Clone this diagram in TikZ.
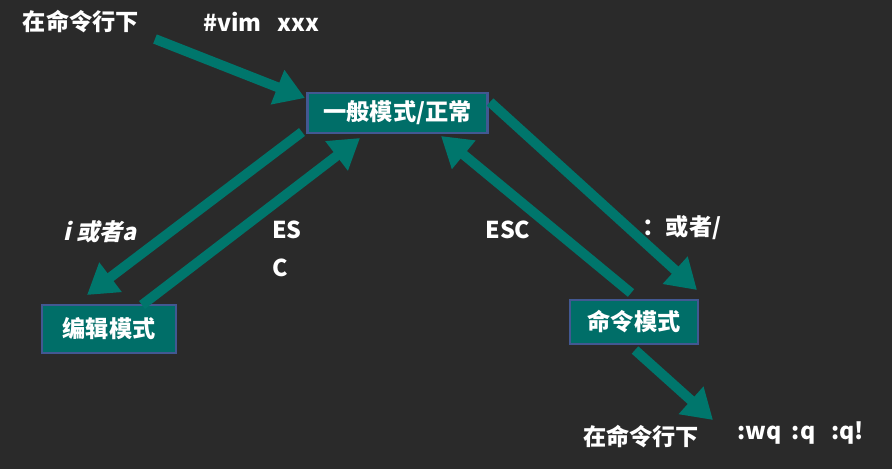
\documentclass[tikz,border=0pt]{standalone}
\usepackage{fontspec}
\setmainfont{Noto Sans CJK SC}
\newfontfamily\slantcjk{Noto Sans CJK SC}[UprightFeatures={FakeSlant=0.22},BoldFeatures={FakeSlant=0.22}]
\usepackage{tikz}
\usetikzlibrary{arrows.meta,positioning}
\definecolor{board}{RGB}{42,42,42}
\definecolor{tealA}{RGB}{0,118,108}
\definecolor{tealB}{RGB}{0,110,104}
\definecolor{edgeB}{RGB}{66,88,146}

\begin{document}
\begin{tikzpicture}[x=0.025cm,y=-0.025cm,
  font=\fontsize{16.5}{19}\selectfont\bfseries,
  mode/.style={draw=edgeB,line width=1.6pt,fill=tealB,text=white,inner sep=0pt},
  lbl/.style={text=white,inner sep=0pt},
  a/.style={-{Triangle[length=21pt,width=25pt]},line width=7pt,tealA}]
  % board
  \fill[board] (0,0) rectangle (892,469);
  \useasboundingbox (0,0) rectangle (892,469);
  % modes
  \node[mode,minimum width=4.5cm,minimum height=1.0cm] (normal) at (397.5,113) {一般模式/正常};
  \node[mode,minimum width=3.35cm,minimum height=1.2cm] (edit) at (109,329) {编辑模式};
  \node[mode,minimum width=3.2cm,minimum height=1.1cm] (cmd) at (634,322) {命令模式};
  % texts
  \node[lbl] (shell) at (81,22) {在命令行下};
  \node[lbl,anchor=west] (vim) at (203,22) {\#vim\ \ \ xxx};
  \node[lbl] (ia) at (100,232) {\slantcjk\bfseries i 或者a};
  \node[lbl,anchor=west] (es) at (272,230) {ES};
  \node[lbl,anchor=west] (c) at (272,268) {C};
  \node[lbl] (esc) at (508,230) {ESC};
  \node[lbl] (colon) at (682,228) {：或者/};
  \node[lbl] (shell2) at (641,437) {在命令行下};
  \node[lbl,anchor=west] (quit) at (737,433) {:wq\ \ :q\ \ \ :q!};
  % arrow ends
  \coordinate (p1) at (155,39);
  \coordinate (p2) at (305,98);
  \coordinate (p3) at (302,132);
  \coordinate (p4) at (87,295);
  \coordinate (p5) at (142,305);
  \coordinate (p6) at (360,138);
  \coordinate (p7) at (490,102);
  \coordinate (p8) at (697,290);
  \coordinate (p9) at (631,293);
  \coordinate (p10) at (441,136);
  \coordinate (p11) at (635,350);
  \coordinate (p12) at (713,420);
  % arrows
  \draw[a] (p1) -- (p2);
  \draw[a] (p3) -- (p4);
  \draw[a] (p5) -- (p6);
  \draw[a] (p7) -- (p8);
  \draw[a] (p9) -- (p10);
  \draw[a] (p11) -- (p12);
\end{tikzpicture}
\end{document}
